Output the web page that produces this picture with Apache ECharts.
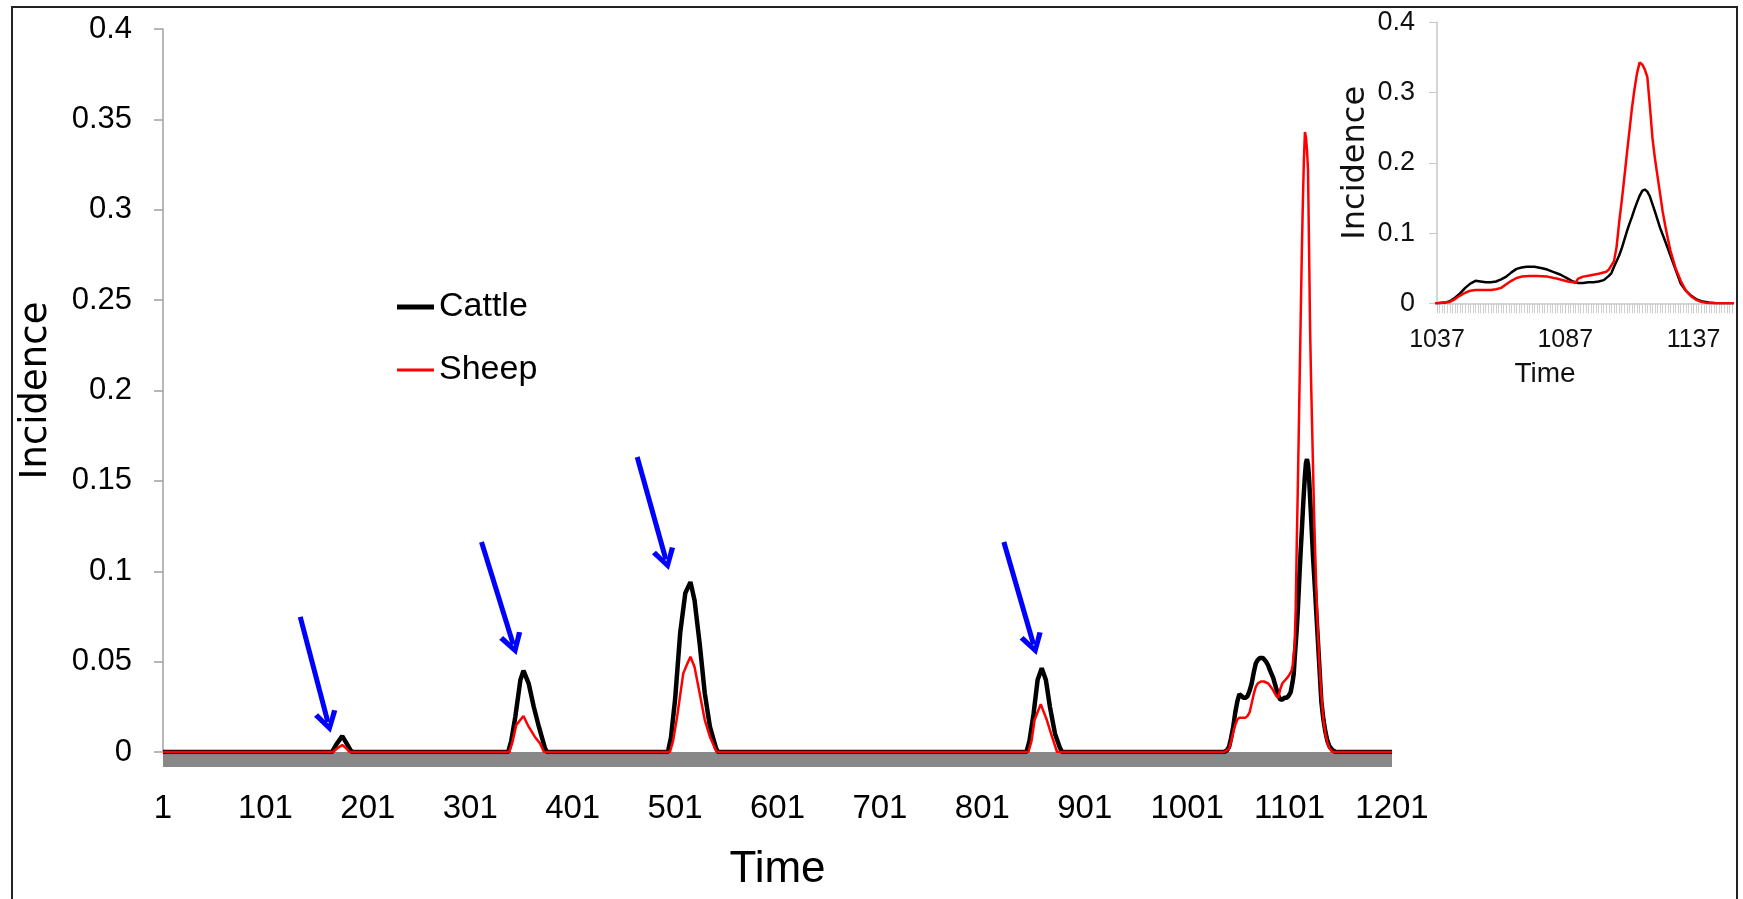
<!DOCTYPE html>
<html>
<head>
<meta charset="utf-8">
<script src="https://cdn.jsdelivr.net/npm/echarts@6/dist/echarts.min.js"></script>
<style>
html,body{margin:0;padding:0;background:#fff;}
#c{width:1743px;height:899px;}
</style>
</head>
<body>
<div id="c"></div>
<script>
// ---- Data (time, incidence) ----
const cattle = [
  [1,0],[166,0],[170,0.004],[176,0.0088],[180,0.005],[184,0.001],[186,0],
  [338,0],[341,0.006],[345,0.0195],[350,0.040],[353,0.045],[358,0.038],[363,0.025],[368,0.014],[374,0.002],[376,0],
  [494,0],[497,0.008],[501,0.029],[506,0.066],[511,0.088],[516,0.094],[520,0.084],[525,0.060],[530,0.0325],[535,0.014],[541,0.002],[543,0],
  [844,0],[847,0.006],[851,0.021],[855,0.040],[859,0.0463],[863,0.040],[867,0.025],[872,0.010],[877,0.002],[879,0],
  [1037,0],[1040,0.001],[1042,0.003],[1044,0.008],[1046,0.014],[1048,0.022],[1050,0.028],[1052,0.032],[1054,0.031],
  [1056,0.030],[1058,0.030],[1060,0.031],[1062,0.034],[1064,0.038],[1066,0.044],[1068,0.049],[1070,0.051],[1072,0.052],
  [1075,0.052],[1078,0.050],[1080,0.048],[1082,0.045],[1085,0.041],[1088,0.035],[1090,0.031],[1092,0.029],[1094,0.029],
  [1096,0.030],[1098,0.030],[1100,0.031],[1102,0.033],[1104,0.039],[1105,0.043],[1106,0.052],[1107,0.060],[1108,0.068],
  [1109,0.078],[1110,0.090],[1111,0.102],[1112,0.113],[1113,0.123],[1114,0.134],[1115,0.144],[1116,0.153],[1117,0.160],
  [1118,0.162],[1119,0.159],[1120,0.152],[1122,0.130],[1124,0.107],[1126,0.088],[1128,0.068],[1130,0.048],[1132,0.028],
  [1134,0.018],[1136,0.011],[1138,0.006],[1140,0.003],[1143,0.001],[1146,0],[1201,0]
];
const sheep = [
  [1,0],[167,0],[171,0.002],[176,0.0039],[180,0.002],[183,0],
  [339,0],[342,0.005],[346,0.015],[353,0.0199],[358,0.014],[364,0.0085],[369,0.0048],[373,0],
  [496,0],[499,0.006],[503,0.0195],[509,0.0435],[513,0.049],[516,0.0527],[520,0.047],[525,0.0325],[530,0.0177],[535,0.0085],[540,0.002],[542,0],
  [846,0],[849,0.006],[852,0.0177],[858,0.0265],[864,0.0177],[869,0.0085],[874,0],
  [1037,0],[1040,0.001],[1042,0.002],[1044,0.006],[1046,0.011],[1048,0.015],[1050,0.018],[1052,0.019],[1054,0.019],
  [1056,0.019],[1058,0.019],[1060,0.020],[1062,0.022],[1064,0.027],[1066,0.032],[1068,0.036],[1070,0.038],[1073,0.039],
  [1076,0.039],[1080,0.038],[1084,0.035],[1088,0.031],[1090,0.030],[1091,0.029],[1092,0.035],[1094,0.038],[1097,0.040],
  [1100,0.042],[1103,0.045],[1104,0.048],[1106,0.060],[1107,0.080],[1108,0.115],[1109,0.145],[1110,0.178],[1111,0.212],
  [1112,0.245],[1113,0.278],[1114,0.305],[1115,0.328],[1116,0.343],[1117,0.340],[1118,0.333],[1119,0.322],[1120,0.280],
  [1121,0.235],[1122,0.205],[1123,0.180],[1124,0.155],[1125,0.130],[1126,0.110],[1127,0.092],[1128,0.075],[1130,0.050],
  [1132,0.032],[1134,0.018],[1136,0.010],[1138,0.005],[1140,0.002],[1143,0],[1201,0]
];
// Blue annotation arrows: [tail, head] in (time, incidence)
const arrowTails = [[135,0.0747],[312,0.1162],[464,0.1632],[822,0.1162]];
const arrowHeads = [[162,0.0165],[343,0.0595],[492,0.1065],[851,0.0595]];
const seriesNames = ['Cattle','Sheep'];
const mainRange = [1,1201];
const insetRange = [1037,1152];

const SANS = "'Liberation Sans',Arial,sans-serif";
const WIDE = "'DejaVu Sans',sans-serif";
const plain = v => String(v);

const chevron = 'path://M10,0 L20,17 L16,19 L10,8 L4,19 L0,17 Z';

const chart = echarts.init(document.getElementById('c'), null, {renderer:'canvas'});
const frame = {type:'rect', shape:{x:12, y:7, width:1725, height:920},
     style:{fill:'none', stroke:'#222', lineWidth:2}, silent:true, z:0};
chart.setOption({
  animation:false,
  backgroundColor:'#fff',
  grid:[
    {left:163, top:29, width:1229, height:723},
    {left:1437, top:22.3, width:295, height:281}
  ],
  legend:[
    {data:[seriesNames[0]], left:392, top:285, icon:'rect',
     itemWidth:37, itemHeight:5,
     textStyle:{fontFamily:SANS, fontSize:34, color:'#000'}},
    {data:[seriesNames[1]], left:392, top:348, icon:'rect',
     itemWidth:37, itemHeight:3,
     textStyle:{fontFamily:SANS, fontSize:34, color:'#000'}}
  ],
  xAxis:[
    {gridIndex:0, type:'value', min:mainRange[0], max:mainRange[1], interval:100,
     axisLine:{show:false},
     axisTick:{show:false}, splitLine:{show:false},
     axisLabel:{fontFamily:SANS, fontSize:33, color:'#000', margin:40, formatter:plain},
     name:'Time', nameLocation:'middle', nameGap:96,
     nameTextStyle:{fontFamily:SANS, fontSize:44, color:'#000'}},
    {gridIndex:1, type:'value', min:insetRange[0], max:insetRange[1], interval:50,
     axisLine:{show:true, lineStyle:{color:'#c8c8c8', width:1.5}},
     axisTick:{show:true, length:10, lineStyle:{color:'#c8c8c8'}},
     minorTick:{show:true, splitNumber:50, length:10, lineStyle:{color:'#cfcfcf'}},
     splitLine:{show:false},
     axisLabel:{fontFamily:SANS, fontSize:25, color:'#111', margin:24, showMaxLabel:false, formatter:plain},
     name:'Time', nameLocation:'middle', nameGap:57,
     nameTextStyle:{fontFamily:SANS, fontSize:28, color:'#111', padding:[0,79,0,0]}}
  ],
  yAxis:[
    {gridIndex:0, type:'value', min:0, max:0.4, interval:0.05,
     axisLine:{show:true, lineStyle:{color:'#a0a0a0', width:1.5}},
     axisTick:{show:true, length:9, lineStyle:{color:'#a0a0a0', width:1.5}},
     splitLine:{show:false},
     axisLabel:{fontFamily:SANS, fontSize:31, color:'#000', margin:31},
     name:'Incidence', nameLocation:'middle', nameGap:108,
     nameTextStyle:{fontFamily:WIDE, fontSize:37, color:'#000'}},
    {gridIndex:1, type:'value', min:0, max:0.4, interval:0.1,
     axisLine:{show:true, lineStyle:{color:'#c8c8c8', width:1.5}},
     axisTick:{show:true, length:8, lineStyle:{color:'#c8c8c8'}},
     splitLine:{show:false},
     axisLabel:{fontFamily:SANS, fontSize:27, color:'#111', margin:22},
     name:'Incidence', nameLocation:'middle', nameGap:65,
     nameTextStyle:{fontFamily:WIDE, fontSize:32, color:'#111'}}
  ],
  series:[
    {name:seriesNames[0], type:'line', xAxisIndex:0, yAxisIndex:0, data:cattle,
     symbol:'none', lineStyle:{color:'#000', width:4.5}, itemStyle:{color:'#000'}, z:3,
     markLine:{silent:true, symbol:['none', chevron], symbolSize:[24,22],
       label:{show:false},
       lineStyle:{color:'#0000ff', width:5, type:'solid'},
       data: arrowTails.map((t,i)=>[{coord:t},{coord:arrowHeads[i]}])}},
    {name:seriesNames[1], type:'line', xAxisIndex:0, yAxisIndex:0, data:sheep,
     symbol:'none', lineStyle:{color:'#ff0000', width:2.5}, itemStyle:{color:'#ff0000'}, z:4},
    {name:seriesNames[0]+' (inset)', type:'line', xAxisIndex:1, yAxisIndex:1, data:cattle,
     symbol:'none', clip:true, lineStyle:{color:'#000', width:2.5}, z:3},
    {name:seriesNames[1]+' (inset)', type:'line', xAxisIndex:1, yAxisIndex:1, data:sheep,
     symbol:'none', clip:true, lineStyle:{color:'#ff0000', width:2.5}, z:4}
  ],
  graphic:[frame]
});
// gray floor band under the main x axis, placed through the axis scale
const p0 = chart.convertToPixel({gridIndex:0}, [mainRange[0], 0]);
const p1 = chart.convertToPixel({gridIndex:0}, [mainRange[1], 0]);
chart.setOption({graphic:[frame,
  {type:'rect', shape:{x:p0[0], y:p0[1], width:p1[0]-p0[0], height:15},
   style:{fill:'#888888'}, silent:true, z:1}
]});
</script>
</body>
</html>
